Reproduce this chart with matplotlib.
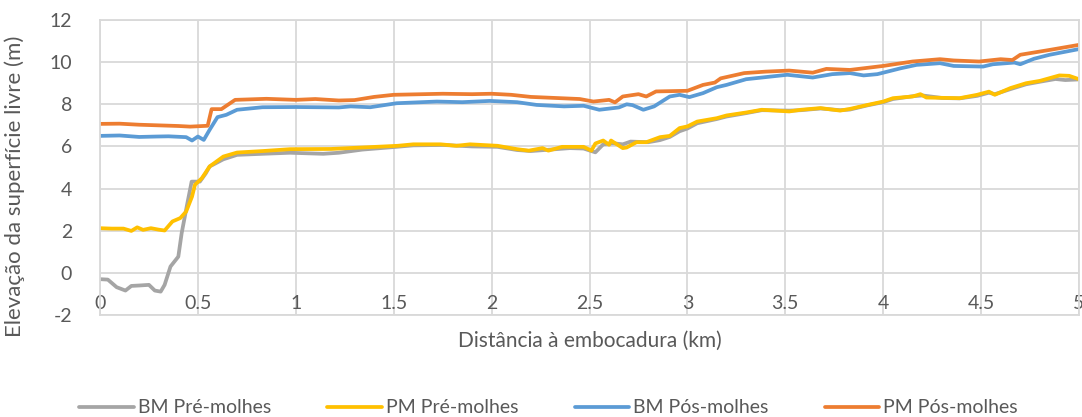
import matplotlib
matplotlib.use("Agg")
import matplotlib.pyplot as plt

plt.rcParams['font.family'] = ['Lato', 'DejaVu Sans']
plt.rcParams['axes.unicode_minus'] = False

# --- data (km, m) ---
bm_pre_x = [0, 0.04, 0.085, 0.13, 0.16, 0.2, 0.25, 0.28, 0.31, 0.33,
            0.36, 0.40, 0.417, 0.443, 0.468, 0.51, 0.54, 0.56, 0.63, 0.70,
            0.83, 0.97, 1.14, 1.22, 1.34, 1.5, 1.6, 1.75, 1.9, 2.03,
            2.13, 2.2, 2.3, 2.4, 2.47, 2.53, 2.57, 2.62, 2.67, 2.71,
            2.8, 2.86, 2.91, 2.96, 3.0, 3.05, 3.15, 3.2, 3.3, 3.38,
            3.52, 3.58, 3.68, 3.78, 3.83, 3.92, 4.0, 4.05, 4.15, 4.2,
            4.3, 4.39, 4.48, 4.54, 4.57, 4.65, 4.73, 4.8, 4.88, 4.93,
            5.0]
bm_pre_y = [-0.3, -0.32, -0.68, -0.84, -0.62, -0.6, -0.57, -0.84, -0.89, -0.57,
            0.3, 0.77, 1.88, 3.15, 4.33, 4.33, 4.72, 5.05, 5.39, 5.6,
            5.65, 5.7, 5.65, 5.7, 5.85, 5.97, 6.05, 6.07, 6.0, 5.98,
            5.83, 5.78, 5.85, 5.92, 5.9, 5.72, 6.1, 6.15, 6.1, 6.23,
            6.2, 6.3, 6.45, 6.72, 6.85, 7.1, 7.3, 7.42, 7.58, 7.72,
            7.7, 7.72, 7.8, 7.72, 7.75, 7.95, 8.1, 8.25, 8.38, 8.42,
            8.3, 8.28, 8.4, 8.55, 8.48, 8.72, 8.95, 9.07, 9.2, 9.15,
            9.18]

pm_pre_x = [0, 0.06, 0.12, 0.16, 0.19, 0.22, 0.26, 0.3, 0.33, 0.37,
            0.41, 0.44, 0.47, 0.485, 0.52, 0.56, 0.63, 0.70, 0.83, 0.97,
            1.18, 1.34, 1.52, 1.6, 1.74, 1.82, 1.89, 2.03, 2.13, 2.19,
            2.26, 2.29, 2.36, 2.47, 2.51, 2.53, 2.57, 2.60, 2.61, 2.67,
            2.69, 2.74, 2.79, 2.86, 2.91, 2.96, 3.0, 3.05, 3.15, 3.2,
            3.3, 3.38, 3.52, 3.58, 3.68, 3.78, 3.83, 3.92, 4.0, 4.05,
            4.15, 4.19, 4.22, 4.39, 4.48, 4.54, 4.57, 4.65, 4.73, 4.8,
            4.9, 4.95, 5.0]
pm_pre_y = [2.12, 2.1, 2.1, 1.99, 2.16, 2.04, 2.12, 2.05, 2.01, 2.44,
            2.6, 2.91, 3.62, 4.18, 4.49, 5.05, 5.52, 5.71, 5.78, 5.87,
            5.88, 5.95, 6.03, 6.1, 6.1, 6.03, 6.1, 6.03, 5.87, 5.8,
            5.92, 5.8, 5.98, 5.98, 5.8, 6.14, 6.28, 6.08, 6.28, 5.92,
            5.95, 6.2, 6.2, 6.44, 6.5, 6.87, 6.95, 7.18, 7.34, 7.47,
            7.61, 7.74, 7.66, 7.74, 7.82, 7.7, 7.78, 7.97, 8.13, 8.29,
            8.37, 8.48, 8.32, 8.29, 8.45, 8.6, 8.45, 8.77, 9.0, 9.11,
            9.37, 9.35, 9.19]

bm_pos_x = [0, 0.1, 0.2, 0.29, 0.35, 0.44, 0.47, 0.5, 0.53, 0.56,
            0.6, 0.645, 0.70, 0.83, 1.0, 1.22, 1.28, 1.38, 1.515, 1.72,
            1.85, 1.99, 2.13, 2.23, 2.37, 2.47, 2.55, 2.65, 2.69, 2.72,
            2.775, 2.83, 2.91, 2.96, 3.01, 3.08, 3.15, 3.2, 3.3, 3.51,
            3.64, 3.74, 3.83, 3.9, 3.97, 4.09, 4.17, 4.29, 4.36, 4.51,
            4.56, 4.67, 4.70, 4.77, 4.85, 5.0]
bm_pos_y = [6.5, 6.52, 6.45, 6.47, 6.48, 6.44, 6.28, 6.47, 6.31, 6.79,
            7.39, 7.5, 7.74, 7.86, 7.87, 7.85, 7.9, 7.86, 8.05, 8.13,
            8.1, 8.16, 8.1, 7.97, 7.9, 7.93, 7.74, 7.85, 8.0, 7.96,
            7.74, 7.9, 8.37, 8.45, 8.34, 8.53, 8.81, 8.92, 9.19, 9.4,
            9.27, 9.43, 9.48, 9.37, 9.43, 9.71, 9.87, 9.95, 9.82, 9.79,
            9.9, 9.98, 9.9, 10.16, 10.35, 10.62]

pm_pos_x = [0, 0.1, 0.2, 0.3, 0.4, 0.46, 0.55, 0.57, 0.62, 0.69,
            0.85, 1.0, 1.1, 1.22, 1.3, 1.4, 1.5, 1.6, 1.75, 1.9,
            2.0, 2.1, 2.2, 2.35, 2.45, 2.52, 2.6, 2.63, 2.67, 2.75,
            2.79, 2.84, 3.0, 3.08, 3.14, 3.17, 3.29, 3.4, 3.52, 3.64,
            3.71, 3.83, 4.0, 4.15, 4.29, 4.36, 4.49, 4.6, 4.66, 4.70,
            4.85, 5.0]
pm_pos_y = [7.07, 7.08, 7.03, 7.0, 6.97, 6.94, 6.98, 7.77, 7.77, 8.21,
            8.26, 8.21, 8.25, 8.18, 8.2, 8.35, 8.45, 8.47, 8.5, 8.48,
            8.5, 8.45, 8.35, 8.29, 8.25, 8.13, 8.21, 8.09, 8.37, 8.48,
            8.37, 8.61, 8.64, 8.92, 9.03, 9.23, 9.48, 9.55, 9.6, 9.5,
            9.68, 9.63, 9.82, 10.03, 10.14, 10.08, 10.03, 10.14, 10.1, 10.35,
            10.58, 10.82]

x_ticks = [0, 0.5, 1, 1.5, 2, 2.5, 3, 3.5, 4, 4.5, 5]
x_tick_labels = ['0', '0.5', '1', '1.5', '2', '2.5', '3', '3.5', '4', '4.5', '5']
y_ticks = [-2, 0, 2, 4, 6, 8, 10, 12]

text_col = '#595959'
grid_col = '#D9D9D9'

fig = plt.figure(figsize=(10.82, 4.17), dpi=100)
ax = fig.add_axes([100 / 1082, 1 - 315 / 417, 979 / 1082, 295 / 417])

ax.plot(bm_pre_x, bm_pre_y, color='#A5A5A5', lw=2.7, label='BM Pré-molhes', solid_capstyle='round')
ax.plot(pm_pre_x, pm_pre_y, color='#FFC000', lw=2.7, label='PM Pré-molhes', solid_capstyle='round')
ax.plot(bm_pos_x, bm_pos_y, color='#5B9BD5', lw=2.7, label='BM Pós-molhes', solid_capstyle='round')
ax.plot(pm_pos_x, pm_pos_y, color='#ED7D31', lw=2.7, label='PM Pós-molhes', solid_capstyle='round')

ax.set_xlim(0, 5)
ax.set_ylim(-2, 12)
ax.set_xticks(x_ticks)
ax.set_xticklabels(x_tick_labels)
ax.set_yticks(y_ticks)
ax.grid(True, color=grid_col, lw=1.3)
ax.set_axisbelow(True)
for s in ax.spines.values():
    s.set_color(grid_col)
    s.set_linewidth(1.3)

ax.tick_params(axis='both', length=0, labelsize=14, labelcolor=text_col)
ax.tick_params(axis='y', pad=20)
# x tick labels sit inside the plot, just above the bottom line
ax.tick_params(axis='x', pad=-2)
for lbl in ax.get_xticklabels():
    lbl.set_verticalalignment('bottom')

ax.set_xlabel('Distância à embocadura (km)', fontsize=15, color=text_col)
ax.xaxis.set_label_coords(0.5, -0.055)
ax.xaxis.label.set_verticalalignment('top')
ax.set_ylabel('Elevação da superfície livre (m)', fontsize=16, color=text_col)
ax.yaxis.set_label_coords(-0.077, 0.435)

fig.legend(loc='center', bbox_to_anchor=(0.507, 0.022), ncol=4, frameon=False,
           fontsize=14, labelcolor=text_col, handlelength=2.8, columnspacing=2.9,
           handletextpad=0.2)

fig.savefig('out.png', dpi=100)
